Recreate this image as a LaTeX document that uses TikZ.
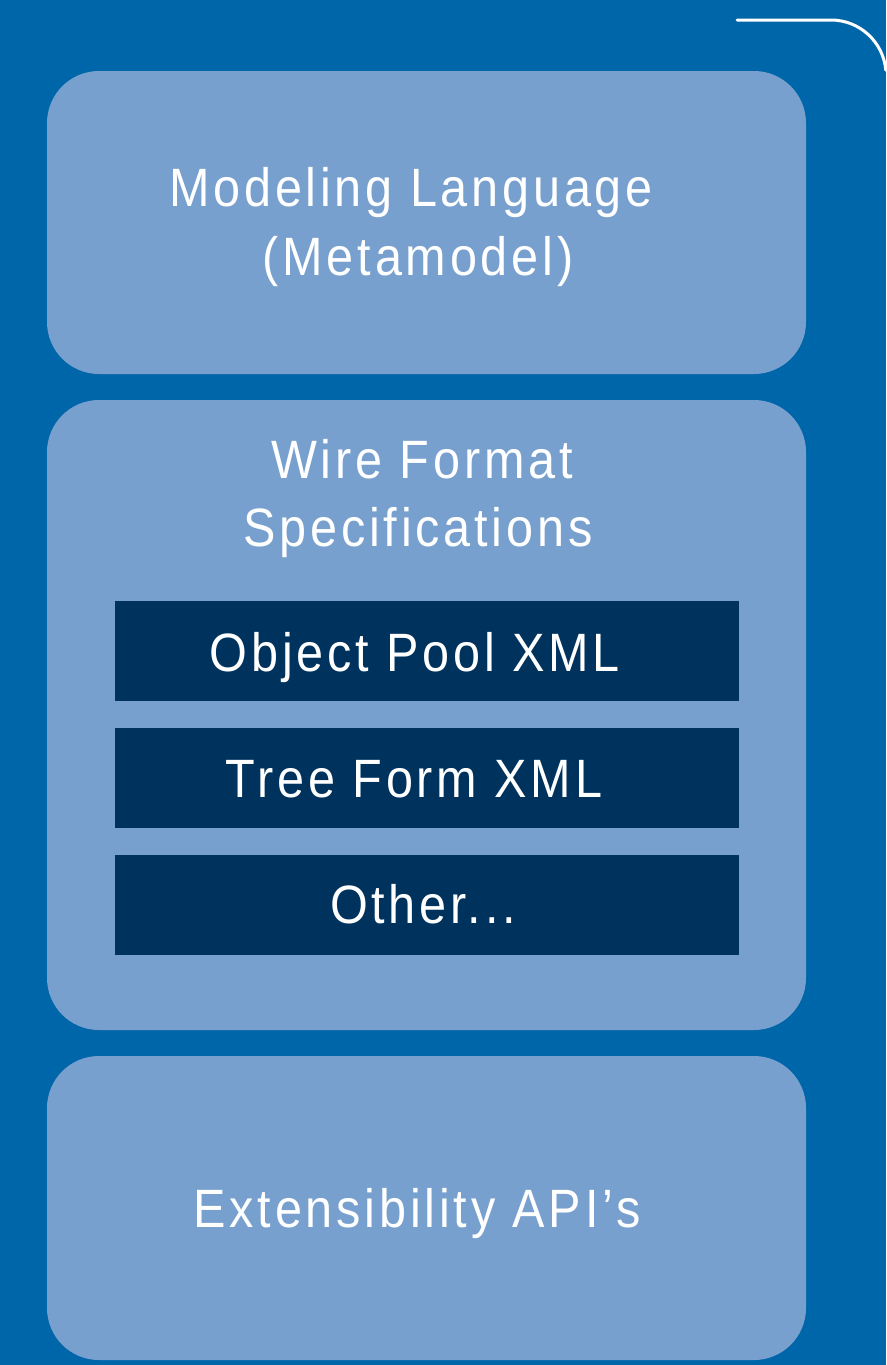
\documentclass[tikz,border=0pt]{standalone}
\usepackage{fontspec}
\setmainfont{Liberation Sans}[FakeStretch=0.9, LetterSpace=7]
\definecolor{backblue}{RGB}{0,102,170}
\definecolor{panelblue}{RGB}{120,160,206}
\definecolor{darkblue}{RGB}{0,50,94}
\tikzset{
  panel/.style={fill=panelblue, draw=none, rounded corners=52pt, inner sep=0pt},
  format/.style={fill=darkblue, draw=none, inner sep=0pt},
  lbl/.style={text=white, anchor=base, inner sep=0pt, font=\fontsize{54}{66}\selectfont},
  edge line/.style={draw=white, line width=3pt, line cap=round}
}
\begin{document}
\begin{tikzpicture}[x=1pt, y=-1pt]
  \useasboundingbox (0,0) rectangle (886,1365);
  \fill[backblue] (0,0) rectangle (886,1365);

  % corner accent line, top right
  \begin{scope}
    \clip (0,0) rectangle (886,1365);
    \coordinate (accentStart) at (737,20);
    \coordinate (accentBend) at (831,20);
    \draw[edge line] (accentStart) -- (accentBend) arc[start angle=90, end angle=5, radius=55pt];
  \end{scope}

  % three stacked layers
  \node[panel, minimum width=759pt, minimum height=303pt] (lang) at (426.5,222.5) {};
  \node[panel, minimum width=759pt, minimum height=630pt] (wire) at (426.5,715) {};
  \node[panel, minimum width=759pt, minimum height=304pt] (ext) at (426.5,1208) {};

  % wire format variants
  \node[format, minimum width=624pt, minimum height=100pt] (pool) at (427,651) {};
  \node[format, minimum width=624pt, minimum height=100pt] (tree) at (427,778) {};
  \node[format, minimum width=624pt, minimum height=100pt] (other) at (427,905) {};

  % labels
  \node[lbl] (langA) at (411,206) {Modeling Language};
  \node[lbl] (langB) at (418,275) {(Metamodel)};
  \node[lbl] (wireA) at (422,478) {Wire Format};
  \node[lbl] (wireB) at (418,546) {Specifications};
  \node[lbl] (poolT) at (415,671) {Object Pool XML};
  \node[lbl] (treeT) at (414,797) {Tree Form XML};
  \node[lbl] (otherT) at (423,923) {Other...};
  \node[lbl] (extT) at (417,1227) {Extensibility API’s};
\end{tikzpicture}
\end{document}
